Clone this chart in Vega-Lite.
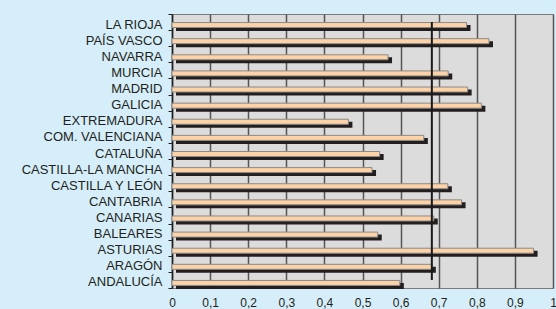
{
  "$schema": "https://vega.github.io/schema/vega-lite/v6.json",
  "width": 381,
  "height": 274,
  "autosize": {"type": "none"},
  "padding": {"left": 172, "top": 14, "right": 3, "bottom": 21},
  "background": "#D5EEF9",
  "config": {
    "view": {"fill": "#DCDCDC", "stroke": "#7A7A7A", "strokeWidth": 1},
    "font": "Liberation Sans"
  },
  "data": {
    "values": [
      {"region": "LA RIOJA", "valor": 0.773},
      {"region": "PAÍS VASCO", "valor": 0.832},
      {"region": "NAVARRA", "valor": 0.567},
      {"region": "MURCIA", "valor": 0.725},
      {"region": "MADRID", "valor": 0.776},
      {"region": "GALICIA", "valor": 0.812},
      {"region": "EXTREMADURA", "valor": 0.463},
      {"region": "COM. VALENCIANA", "valor": 0.661},
      {"region": "CATALUÑA", "valor": 0.545},
      {"region": "CASTILLA-LA MANCHA", "valor": 0.525},
      {"region": "CASTILLA Y LEÓN", "valor": 0.724},
      {"region": "CANTABRIA", "valor": 0.760},
      {"region": "CANARIAS", "valor": 0.687},
      {"region": "BALEARES", "valor": 0.540},
      {"region": "ASTURIAS", "valor": 0.949},
      {"region": "ARAGÓN", "valor": 0.682},
      {"region": "ANDALUCÍA", "valor": 0.598}
    ]
  },
  "encoding": {
    "x": {
      "field": "valor", "type": "quantitative",
      "scale": {"domain": [0, 1], "nice": false},
      "axis": {
        "title": null, "values": [0, 0.1, 0.2, 0.3, 0.4, 0.5, 0.6, 0.7, 0.8, 0.9, 1], "tickCount": 20,
        "grid": true, "gridColor": "#555555", "gridWidth": 1.5,
        "ticks": false, "domain": false, "labelPadding": 9,
        "labelOverlap": false, "labelBound": false, "labelFlush": false,
        "labelFontSize": 12, "labelColor": "#231F20", "labelFont": "Liberation Sans",
        "labelExpr": "replace(format(datum.value, '.1~f'), '.', ',')"
      }
    }
  },
  "layer": [
    {
      "mark": {"type": "bar", "color": "#231F20", "size": 6, "xOffset": 4, "yOffset": 6},
      "encoding": {
        "y": {
          "field": "region", "type": "nominal",
          "scale": {"domain": ["LA RIOJA", "PAÍS VASCO", "NAVARRA", "MURCIA", "MADRID", "GALICIA", "EXTREMADURA", "COM. VALENCIANA", "CATALUÑA", "CASTILLA-LA MANCHA", "CASTILLA Y LEÓN", "CANTABRIA", "CANARIAS", "BALEARES", "ASTURIAS", "ARAGÓN", "ANDALUCÍA"], "paddingInner": 0, "paddingOuter": 0},
          "axis": {
            "title": null, "tickBand": "extent", "domainColor": "#231F20", "domainWidth": 1.5,
            "tickColor": "#231F20", "tickSize": 4, "tickWidth": 1,
            "labelFontSize": 13, "labelColor": "#231F20", "labelPadding": 6, "labelFont": "Liberation Sans",
            "labelOffset": 2
          }
        }
      }
    },
    {
      "mark": {"type": "bar", "color": "#FDD2A6", "stroke": "#8A8A8A", "strokeWidth": 1, "size": 5, "yOffset": 3},
      "encoding": {
        "y": {"field": "region", "type": "nominal"}
      }
    },
    {
      "data": {"values": [{"valor": 0.682, "desde": "LA RIOJA", "hasta": "ANDALUCÍA"}]},
      "mark": {"type": "rule", "color": "#1A1A1A", "strokeWidth": 2},
      "encoding": {
        "y": {"field": "desde", "type": "nominal"},
        "y2": {"field": "hasta"}
      }
    }
  ]
}
